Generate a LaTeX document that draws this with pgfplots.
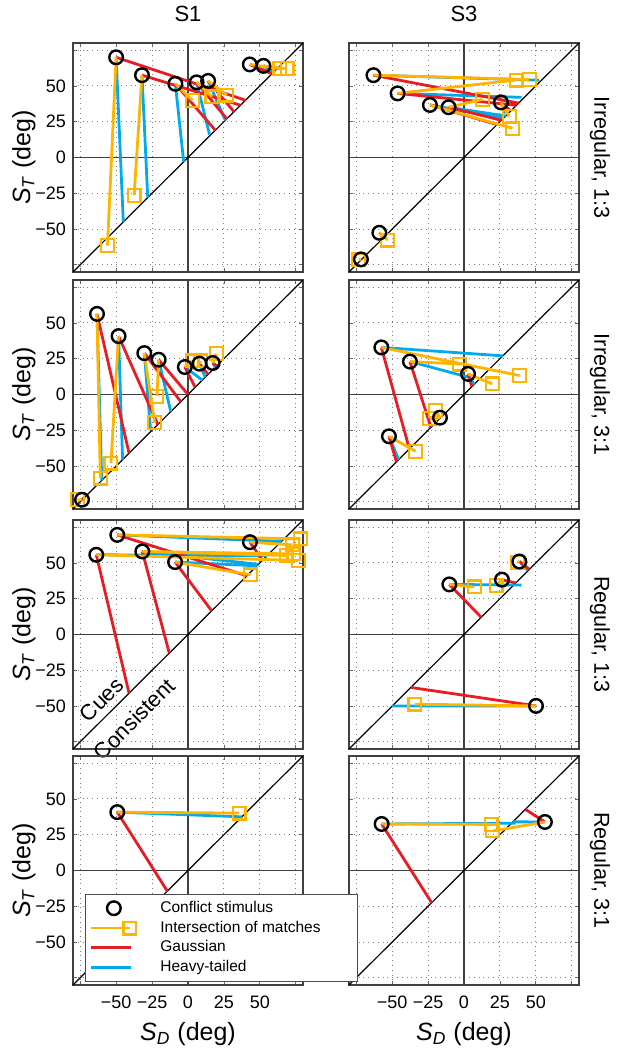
\documentclass[border=0pt]{standalone}
\usepackage{fontspec}
\setmainfont{Liberation Sans}
\usepackage{pgfplots}
\pgfplotsset{compat=1.18}
\definecolor{cor}{RGB}{255,180,0}
\definecolor{cred}{RGB}{232,28,36}
\definecolor{cblu}{RGB}{0,170,235}
\pgfplotsset{
  panel/.style={
    scale only axis, width=115pt, height=114.5pt, anchor=south west,
    xmin=-80,xmax=80,ymin=-80,ymax=80,
    xtick={-75,-50,-25,0,25,50,75}, ytick={-75,-50,-25,0,25,50,75},
    xticklabels={}, yticklabels={},
    grid=major, grid style={dotted, line width=0.55pt, black!50},
    major tick length=2pt, tick align=inside, tick style={black!60, line width=0.4pt},
    axis line style={line width=0.9pt, black!75},
    tick label style={font=\fontsize{9}{10}\selectfont},
    xticklabel style={yshift=-2pt},
    label style={font=\fontsize{12.5}{14}\selectfont},
    ylabel shift=-7pt,
    title style={font=\fontsize{11}{12}\selectfont, yshift=1pt},
    clip=false, unbounded coords=jump,
  },
  lefty/.style={yticklabels={,−50,−25,0,25,50,}, ylabel={\textit{S}\textsubscript{\textit{T}} (deg)}},
  botx/.style={xticklabels={,−50,−25,0,25,50,}, xlabel={\textit{S}\textsubscript{\textit{D}} (deg)}},
  refl/.style={black!75, line width=0.7pt, forget plot, no marks},
  diag/.style={black, line width=0.6pt, forget plot, no marks},
  bl/.style={cblu, line width=1.4pt, forget plot, no marks},
  rd/.style={cred, line width=1.4pt, forget plot, no marks},
  og/.style={cor, line width=1.4pt, forget plot, no marks},
  sq/.style={only marks, mark=square, mark size=3.2pt, cor, mark options={line width=1.1pt, solid}, forget plot},
  ci/.style={only marks, mark=o, mark size=3.4pt, black, mark options={line width=1.2pt, solid}, forget plot},
}
\newcommand{\refs}{%
  \addplot[refl] coordinates {(0,-80) (0,80)};
  \addplot[refl] coordinates {(-80,0) (80,0)};
  \addplot[diag] coordinates {(-80,-80) (80,80)};
}
\newcommand{\rowlab}[1]{\node[xshift=10.5pt, rotate=-90, font=\fontsize{10.8}{12}\selectfont] at (rel axis cs:1,0.5) {#1};}
\begin{document}
\begin{tikzpicture}
\useasboundingbox (0,0) rectangle (309pt,525pt);

% ---------- Row 1 left: S1 Irregular 1:3
\begin{axis}[panel, lefty, at={(36.5pt,389pt)}, title={S1}]
\refs
\addplot[bl] coordinates {(-50,70)(-45,-45) (nan,nan) (-32,57.5)(-28,-28) (nan,nan) (-8.8,51.5)(-3,-3) (nan,nan) (6,52.5)(15,16) (nan,nan) (14,53.5)(26,26) (nan,nan) (43,65)(58,59) (nan,nan) (52.5,64)(60,60)};
\addplot[rd] coordinates {(-50,70)(40,40) (nan,nan) (-32,57.5)(36.5,36.5) (nan,nan) (-8.8,51.5)(19,19) (nan,nan) (6,52.5)(27,27) (nan,nan) (14,53.5)(32,32) (nan,nan) (43,65)(58.5,58.5) (nan,nan) (52.5,64)(61,61)};
\addplot[og] coordinates {(-50,70)(-56,-61.5) (nan,nan) (-32,57.5)(-37.5,-26.5) (nan,nan) (-8.8,51.5)(3,40) (nan,nan) (6,52.5)(16.7,42.4) (nan,nan) (14,53.5)(27,43.6) (nan,nan) (43,65)(64,62) (nan,nan) (52.5,64)(69,62)};
\addplot[sq] coordinates {(-56,-61.5)(-37.5,-26.5)(3,40)(16.7,42.4)(27,43.6)(64,62)(69,62)};
\addplot[ci] coordinates {(-50,70)(-32,57.5)(-8.8,51.5)(6,52.5)(14,53.5)(43,65)(52.5,64)};
\end{axis}

% ---------- Row 1 right: S3 Irregular 1:3
\begin{axis}[panel, at={(174.5pt,389pt)}, title={S3}]
\refs
\addplot[bl] coordinates {(-63,57.5)(52.5,54) (nan,nan) (-46.2,44.8)(40,42) (nan,nan) (-23.7,36.7)(27,27.5) (nan,nan) (-10.7,35.1)(29,29) (nan,nan) (25.7,38.5)(29,31)};
\addplot[rd] coordinates {(-63,57.5)(38,38) (nan,nan) (-46.2,44.8)(36.5,36.5) (nan,nan) (-23.7,36.7)(23,23) (nan,nan) (-10.7,35.1)(26,26) (nan,nan) (25.7,38.5)(32,33) (nan,nan) (-58.9,-52.6)(-56,-56) (nan,nan) (-71.7,-71.2)(-71.5,-71.5)};
\addplot[og] coordinates {(-63,57.5)(45.4,54.5) (nan,nan) (-46.2,44.8)(36.2,54.1) (nan,nan) (-23.7,36.7)(33.8,20.4) (nan,nan) (-10.7,35.1)(12.9,40.6) (nan,nan) (25.7,38.5)(31.5,28.5) (nan,nan) (-58.9,-52.6)(-53.1,-57.7) (nan,nan) (-71.7,-71.2)(-73.3,-71.6)};
\addplot[sq] coordinates {(45.4,54.5)(36.2,54.1)(33.8,20.4)(12.9,40.6)(31.5,28.5)(-53.1,-57.7)(-73.3,-71.6)};
\addplot[ci] coordinates {(-63,57.5)(-46.2,44.8)(-23.7,36.7)(-10.7,35.1)(25.7,38.5)(-58.9,-52.6)(-71.7,-71.2)};
\rowlab{Irregular, 1:3}
\end{axis}

% ---------- Row 2 left: S1 Irregular 3:1
\begin{axis}[panel, lefty, at={(36.5pt,270.5pt)}]
\refs
\addplot[bl] coordinates {(-63.3,56.3)(-60,-60) (nan,nan) (-48.3,40.8)(-45.5,-45.5) (nan,nan) (-30.4,28.9)(-26,-25) (nan,nan) (-20.4,24.3)(-12,-12) (nan,nan) (-2.2,19.2)(10,10) (nan,nan) (8,21.5)(12,12) (nan,nan) (17.2,22)(19,19)};
\addplot[rd] coordinates {(-63.3,56.3)(-41,-41) (nan,nan) (-48.3,40.8)(-21,-21) (nan,nan) (-30.4,28.9)(-5,-5) (nan,nan) (-20.4,24.3)(0,0) (nan,nan) (-2.2,19.2)(5,5) (nan,nan) (8,21.5)(14,14) (nan,nan) (17.2,22)(20,20) (nan,nan) (-73.7,-73.5)(-72,-72)};
\addplot[og] coordinates {(-63.3,56.3)(-61,-58.4) (nan,nan) (-48.3,40.8)(-53.6,-48) (nan,nan) (-30.4,28.9)(-23.2,-19.7) (nan,nan) (-20.4,24.3)(-21.6,-1.2) (nan,nan) (-2.2,19.2)(2.8,23.4) (nan,nan) (8,21.5)(8.6,23.4) (nan,nan) (17.2,22)(19.7,28.5) (nan,nan) (-73.7,-73.5)(-76.8,-73.5)};
\addplot[sq] coordinates {(-61,-58.4)(-53.6,-48)(-23.2,-19.7)(-21.6,-1.2)(2.8,23.4)(8.6,23.4)(19.7,28.5)(-76.8,-73.5)};
\addplot[ci] coordinates {(-63.3,56.3)(-48.3,40.8)(-30.4,28.9)(-20.4,24.3)(-2.2,19.2)(8,21.5)(17.2,22)(-73.7,-73.5)};
\end{axis}

% ---------- Row 2 right: S3 Irregular 3:1
\begin{axis}[panel, at={(174.5pt,270.5pt)}]
\refs
\addplot[bl] coordinates {(-57.5,32.9)(27,27) (nan,nan) (-37.6,23)(3.5,12) (nan,nan) (2.8,14.4)(7,7) (nan,nan) (-52.2,-29.2)(-45.5,-45.5)};
\addplot[rd] coordinates {(-57.5,32.9)(-38,-38) (nan,nan) (-37.6,23)(-23,-23) (nan,nan) (2.8,14.4)(5.5,5.5) (nan,nan) (-52.2,-29.2)(-47,-47)};
\addplot[og] coordinates {(-57.5,32.9)(38.7,13.2) (nan,nan) (-37.6,23)(-3,21.3) (nan,nan) (2.8,14.4)(19.7,7.4) (nan,nan) (-16.7,-16.2)(-19.7,-11.1) (nan,nan) (-16.7,-16.2)(-23.9,-16.9) (nan,nan) (-52.2,-29.2)(-33.6,-39.7)};
\addplot[sq] coordinates {(38.7,13.2)(-3,21.3)(19.7,7.4)(-19.7,-11.1)(-23.9,-16.9)(-33.6,-39.7)};
\addplot[ci] coordinates {(-57.5,32.9)(-37.6,23)(2.8,14.4)(-16.7,-16.2)(-52.2,-29.2)};
\rowlab{Irregular, 3:1}
\end{axis}

% ---------- Row 3 left: S1 Regular 1:3
\begin{axis}[panel, lefty, at={(36.5pt,150.5pt)}]
\refs
\addplot[bl] coordinates {(-49.2,69.6)(65,65) (nan,nan) (-63.8,55.7)(55,55) (nan,nan) (-31.8,58)(49,49) (nan,nan) (-9,50.6)(48,48) (nan,nan) (43.1,64.5)(64,64)};
\addplot[rd] coordinates {(-49.2,69.6)(41,41) (nan,nan) (-63.8,55.7)(-41,-41) (nan,nan) (-31.8,58)(-13,-13) (nan,nan) (-9,50.6)(16.5,16.5) (nan,nan) (43.1,64.5)(51,53)};
\addplot[og] coordinates {(-49.2,69.6)(78.4,66.8) (nan,nan) (43.1,64.5)(72.6,62.6) (nan,nan) (-31.8,58)(68.6,55.2) (nan,nan) (-31.8,58)(73.7,56.3) (nan,nan) (-63.8,55.7)(76.8,51.7) (nan,nan) (-9,50.6)(43.6,41.7)};
\addplot[sq] coordinates {(78.4,66.8)(72.6,62.6)(68.6,55.2)(73.7,56.3)(76.8,51.7)(43.6,41.7)};
\addplot[ci] coordinates {(-49.2,69.6)(-63.8,55.7)(-31.8,58)(-9,50.6)(43.1,64.5)};
\node[rotate=45, font=\fontsize{11}{12}\selectfont] at (axis cs:-60,-45.5) {Cues};
\node[rotate=45, font=\fontsize{11}{12}\selectfont] at (axis cs:-37.5,-59) {Consistent};
\end{axis}

% ---------- Row 3 right: S3 Regular 1:3
\begin{axis}[panel, at={(174.5pt,150.5pt)}]
\refs
\addplot[bl] coordinates {(-10.2,35)(40,34.5) (nan,nan) (38.5,51)(44.5,45) (nan,nan) (50.1,-49.9)(-50,-50)};
\addplot[rd] coordinates {(-10.2,35)(12,12) (nan,nan) (26.4,38.3)(36,36) (nan,nan) (38.5,51)(45.5,45.5) (nan,nan) (50.1,-49.9)(-37,-37)};
\addplot[og] coordinates {(-10.2,35)(7.2,33.2) (nan,nan) (26.4,38.3)(22.3,34.3) (nan,nan) (38.5,51)(37.3,50.6) (nan,nan) (50.1,-49.9)(-34.1,-48.7)};
\addplot[sq] coordinates {(7.2,33.2)(22.3,34.3)(37.3,50.6)(-34.1,-48.7)};
\addplot[ci] coordinates {(-10.2,35)(26.4,38.3)(38.5,51)(50.1,-49.9)};
\rowlab{Regular, 1:3}
\end{axis}

% ---------- Row 4 right: S3 Regular 3:1
\begin{axis}[panel, botx, at={(174.5pt,32.5pt)}]
\refs
\addplot[bl] coordinates {(-57.3,32.5)(36,33) (nan,nan) (56.3,33.9)(34,34)};
\addplot[rd] coordinates {(-57.3,32.5)(-22.5,-22.5) (nan,nan) (56.3,33.9)(42.7,42.7)};
\addplot[og] coordinates {(-57.3,32.5)(18.8,32.2) (nan,nan) (56.3,33.9)(19.9,27.6)};
\addplot[sq] coordinates {(18.8,32.2)(19.9,27.6)};
\addplot[ci] coordinates {(-57.3,32.5)(56.3,33.9)};
\rowlab{Regular, 3:1}
\end{axis}

% ---------- Row 4 left: S1 Regular 3:1 (with legend, drawn last)
\begin{axis}[panel, lefty, botx, at={(36.5pt,32.5pt)},
  legend cell align=left,
  legend style={at={(0.052,0.013)}, anchor=south west, draw=black!70, line width=0.5pt, fill=white,
    inner xsep=2pt, inner ysep=2pt, row sep=0pt,
    font=\fontsize{7.75}{9}\selectfont,
    nodes={inner sep=0.75pt, text height=6.2pt, text depth=2.2pt}}]
\refs
\addplot[bl] coordinates {(-49.2,40.8)(37.5,37.5)};
\addplot[rd] coordinates {(-49.2,40.8)(-14.4,-14.4)};
\addplot[og] coordinates {(-49.2,40.8)(35.5,40.1)};
\addplot[sq] coordinates {(35.5,40.1)};
\addplot[ci] coordinates {(-49.2,40.8)};
\addlegendimage{legend image code/.code={\path[draw=none,fill=none] (0pt,0pt) -- (34pt,0pt); \draw[black, line width=1.2pt] (11.5pt,0pt) circle (3.4pt);}}
\addlegendentry{\makebox[96pt][l]{Conflict stimulus}}
\addlegendimage{legend image code/.code={\path[draw=none,fill=none] (0pt,0pt) -- (34pt,0pt); \draw[cor, line width=1.4pt] (0pt,0pt) -- (19.5pt,0pt); \draw[cor, line width=1.1pt] (16.3pt,-3.2pt) rectangle (22.7pt,3.2pt);}}
\addlegendentry{\makebox[96pt][l]{Intersection of matches}}
\addlegendimage{legend image code/.code={\path[draw=none,fill=none] (0pt,0pt) -- (34pt,0pt); \draw[cred, line width=1.4pt] (0pt,0pt) -- (20pt,0pt);}}
\addlegendentry{\makebox[96pt][l]{Gaussian}}
\addlegendimage{legend image code/.code={\path[draw=none,fill=none] (0pt,0pt) -- (34pt,0pt); \draw[cblu, line width=1.4pt] (0pt,0pt) -- (20pt,0pt);}}
\addlegendentry{\makebox[96pt][l]{Heavy-tailed}}
\end{axis}
\end{tikzpicture}
\end{document}
